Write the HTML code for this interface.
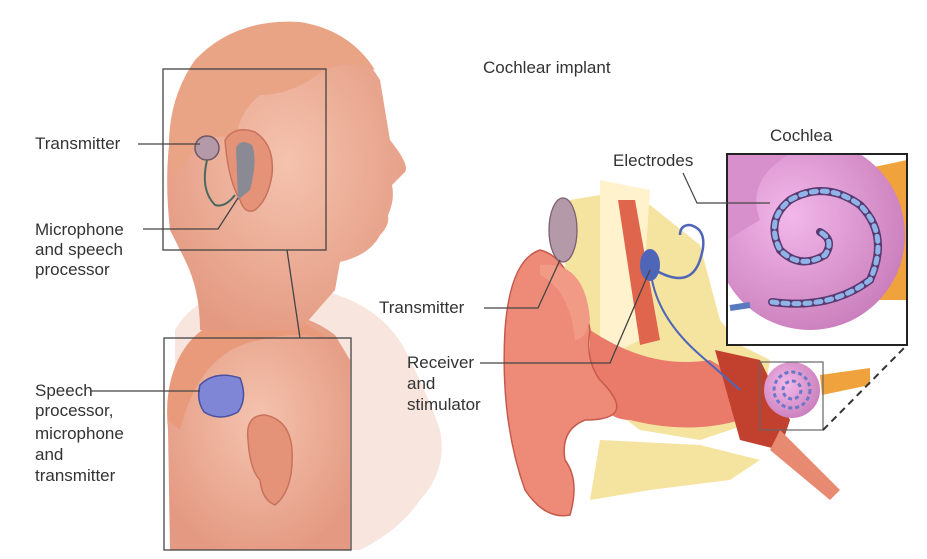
<!DOCTYPE html>
<html><head><meta charset="utf-8"><style>
body{margin:0;background:#fff;width:927px;height:559px;overflow:hidden;font-family:"Liberation Sans",sans-serif}
svg{display:block}
text{font-family:"Liberation Sans",sans-serif;font-size:17px;fill:#333}
</style></head><body>
<svg width="927" height="559" viewBox="0 0 927 559">
<defs>
<radialGradient id="sk" cx="0.5" cy="0.45" r="0.6"><stop offset="0" stop-color="#f4c3ae"/><stop offset="1" stop-color="#e49a82"/></radialGradient>
<radialGradient id="co" cx="0.4" cy="0.4" r="0.7"><stop offset="0" stop-color="#f2b8ea"/><stop offset="1" stop-color="#c77ab8"/></radialGradient>
<clipPath id="cb"><rect x="727" y="154" width="180" height="191"/></clipPath>
</defs>
<!-- back faded head -->
<path d="M175 330 Q200 285 280 285 Q380 290 410 360 Q430 400 440 430 Q448 470 420 500 Q400 530 360 550 L175 550 Z" fill="#f8e6de"/>
<!-- second head -->
<path d="M170 550 L168 430 Q160 350 220 320 Q290 300 335 335 L350 360 L350 550 Z" fill="url(#sk)"/>
<path d="M168 420 Q165 340 225 318 Q290 305 330 340 Q300 330 260 340 Q200 350 180 430 Z" fill="#e89a7a"/>
<path d="M248 440 Q245 415 265 415 Q290 420 292 450 Q294 490 275 505 Q262 500 260 480 Q250 470 248 440Z" fill="#e49278" stroke="#c9735c" stroke-width="1.5"/>
<path d="M200 385 Q215 370 240 378 Q248 398 238 412 Q220 422 204 412 Q196 400 200 385Z" fill="#7f86d6" stroke="#4a50a0" stroke-width="1.5"/>
<!-- top head -->
<path d="M170 230 Q160 140 185 80 Q215 25 290 25 Q350 30 380 80 L390 140 Q410 165 405 172 L392 185 Q395 200 388 215 Q390 225 380 235 Q370 255 340 262 L335 290 L300 330 L200 330 Q200 290 185 260 Z" fill="url(#sk)"/>
<path d="M172 180 Q160 110 195 60 Q235 18 300 22 Q350 30 375 70 Q340 55 310 80 Q285 95 260 95 Q240 110 235 140 Q215 130 195 150 Z" fill="#e9a385"/>
<path d="M225 140 Q235 125 255 132 Q275 145 272 175 Q268 200 255 210 Q245 215 240 200 Q228 180 225 140Z" fill="#e49278" stroke="#c9735c" stroke-width="1.5"/>
<path d="M236 148 Q240 138 252 145 Q258 160 250 190 L238 200 Z" fill="#8a8a95"/>
<circle cx="207" cy="148" r="12" fill="#b49aa8" stroke="#6e5766" stroke-width="1.5"/>
<path d="M207 160 Q200 190 215 205 Q225 208 235 195" fill="none" stroke="#4a6a60" stroke-width="2"/>
<!-- boxes left -->
<rect x="163" y="69" width="163" height="181" fill="none" stroke="#444" stroke-width="1.3"/>
<rect x="164" y="338" width="187" height="212" fill="none" stroke="#444" stroke-width="1.3"/>
<line x1="287" y1="250" x2="300" y2="338" stroke="#444" stroke-width="1.3"/>
<!-- left labels -->
<text x="35" y="149">Transmitter</text>
<line x1="138" y1="144" x2="200" y2="144" stroke="#444" stroke-width="1.3"/>
<text x="35" y="235">Microphone</text>
<text x="35" y="255">and speech</text>
<text x="35" y="275">processor</text>
<polyline points="143,229 218,229 238,198" fill="none" stroke="#444" stroke-width="1.3"/>
<text x="35" y="396">Speech</text>
<line x1="91" y1="391" x2="200" y2="391" stroke="#444" stroke-width="1.3"/>
<text x="35" y="416">processor,</text>
<text x="35" y="439">microphone</text>
<text x="35" y="460">and</text>
<text x="35" y="481">transmitter</text>
<!-- right -->
<text x="483" y="73">Cochlear implant</text>
<text x="770" y="141">Cochlea</text>
<text x="613" y="166">Electrodes</text>
<!-- yellow tissue -->
<path d="M570 200 L600 195 L650 205 L700 245 L720 320 L740 345 L770 360 L760 420 L700 440 L640 430 L600 400 L565 365 Q560 300 570 200Z" fill="#f5e3a0"/>
<path d="M600 440 L700 445 L760 460 L730 480 L650 490 L590 500 Z" fill="#f5e3a0"/>
<path d="M600 180 L650 190 L640 340 L600 360 Z" fill="#fff2cc"/>
<path d="M618 200 L635 200 L660 340 L640 345 Z" fill="#e0654d"/>
<!-- ear canal -->
<path d="M590 330 Q650 370 710 360 L745 380 L740 420 Q690 435 630 420 Q600 420 590 380Z" fill="#ea7b6a"/>
<path d="M715 350 L760 360 L790 420 L780 450 L740 440 Z" fill="#c2402e"/>
<path d="M780 430 L840 490 L830 500 L770 450 Z" fill="#e88a72"/>
<!-- pinna -->
<path d="M540 250 Q510 260 505 330 Q500 420 525 490 Q545 520 570 515 Q580 480 565 460 Q560 430 585 420 Q640 420 600 380 Q585 360 590 330 Q585 300 570 280 Q560 255 540 250Z" fill="#ee8a78" stroke="#c65a4c" stroke-width="1.5"/>
<path d="M540 265 Q585 260 590 320 Q585 340 575 340 Q570 290 540 275Z" fill="#f19a86"/>
<ellipse cx="563" cy="230" rx="14" ry="32" fill="#b49aa8" stroke="#7a6070" stroke-width="1.3"/>
<!-- receiver -->
<ellipse cx="650" cy="265" rx="10" ry="16" fill="#4f66b8"/>
<path d="M655 270 Q690 290 700 260 Q710 230 690 225 Q680 225 680 235" fill="none" stroke="#4f66b8" stroke-width="2.5"/>
<path d="M652 280 Q660 320 700 355 L740 390" fill="none" stroke="#4f66b8" stroke-width="2"/>
<!-- small cochlea -->
<path d="M820 375 L870 368 L870 385 L822 395Z" fill="#f0a23c"/>
<circle cx="792" cy="390" r="28" fill="url(#co)"/>
<circle cx="792" cy="390" r="18" fill="none" stroke="#6a78c8" stroke-width="3" stroke-dasharray="4 3"/>
<circle cx="792" cy="390" r="9" fill="none" stroke="#6a78c8" stroke-width="3" stroke-dasharray="4 3"/>
<rect x="760" y="362" width="63" height="68" fill="none" stroke="#666" stroke-width="1.2"/>
<line x1="823" y1="430" x2="907" y2="345" stroke="#333" stroke-width="2" stroke-dasharray="7 5"/>
<!-- big cochlea box -->
<g clip-path="url(#cb)">
<rect x="727" y="154" width="180" height="191" fill="#fff"/>
<path d="M860 170 L907 160 L907 300 L870 300 Z" fill="#f0a23c"/>
<circle cx="810" cy="235" r="95" fill="url(#co)"/>
<path d="M727 154 L790 154 Q745 180 760 220 L727 240Z" fill="#d890cc"/>
<path d="M772 302 Q830 310 870 280 Q890 235 860 205 Q825 180 790 200 Q765 220 780 250 Q800 270 825 255 Q835 240 820 232" fill="none" stroke="#5a3a70" stroke-width="8" stroke-linecap="round"/>
<path d="M772 302 Q830 310 870 280 Q890 235 860 205 Q825 180 790 200 Q765 220 780 250 Q800 270 825 255 Q835 240 820 232" fill="none" stroke="#8fb4e8" stroke-width="5" stroke-dasharray="5 6" stroke-linecap="round"/>
<line x1="730" y1="308" x2="750" y2="305" stroke="#5a7ac0" stroke-width="6"/>
</g>
<rect x="727" y="154" width="180" height="191" fill="none" stroke="#222" stroke-width="2"/>
<polyline points="683,173 697,203 770,203" fill="none" stroke="#444" stroke-width="1.2"/>
<!-- labels -->
<text x="379" y="313">Transmitter</text>
<polyline points="484,308 538,308 560,260" fill="none" stroke="#444" stroke-width="1.3"/>
<text x="407" y="368">Receiver</text>
<text x="407" y="389">and</text>
<text x="407" y="410">stimulator</text>
<polyline points="480,363 610,363 650,270" fill="none" stroke="#444" stroke-width="1.3"/>
</svg>
</body></html>
